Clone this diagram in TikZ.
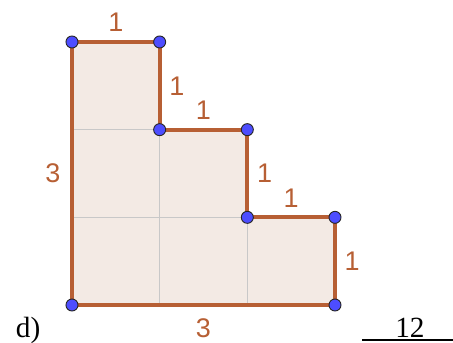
\documentclass[tikz,border=0pt]{standalone}
\usepackage{fontspec}
\setmainfont{Liberation Serif}
\newfontfamily\labfont{Liberation Sans}
\definecolor{edgebrown}{RGB}{183,95,52}
\definecolor{areafill}{RGB}{243,234,228}
\definecolor{gridgray}{RGB}{200,200,200}
\definecolor{ptblue}{RGB}{77,77,255}
\tikzset{
  edge/.style={line width=2.6pt, edgebrown},
  lab/.style={font=\labfont\fontsize{17.5}{20}\selectfont, text=edgebrown, inner sep=0pt},
  txt/.style={font=\fontsize{19}{22}\selectfont, inner sep=0pt},
  pt/.style={circle, fill=ptblue, draw=black!85, line width=0.6pt, inner sep=0pt, minimum size=7.8pt}
}
\begin{document}
\begin{tikzpicture}[x=2cm, y=2cm]
    \useasboundingbox (-0.821,-0.433) rectangle (4.346,3.479);
    % 階段形の頂点
    \coordinate (A) at (0,3);
    \coordinate (B) at (1,3);
    \coordinate (C) at (1,2);
    \coordinate (D) at (2,2);
    \coordinate (E) at (2,1);
    \coordinate (F) at (3,1);
    \coordinate (G) at (3,0);
    \coordinate (O) at (0,0);
    % 内側の領域
    \fill[areafill] (A) -- (B) -- (C) -- (D) -- (E) -- (F) -- (G) -- (O) -- cycle;
    % 方眼の線
    \draw[gridgray, line width=0.8pt] (0,1) -- (E) (0,2) -- (C) (1,0) -- (C) (2,0) -- (E);
    % 辺と長さ
    \draw[edge] (A) -- node[lab, above=5.5pt] {1} (B);
    \draw[edge] (B) -- node[lab, right=5pt] {1} (C);
    \draw[edge] (C) -- node[lab, above=5pt] {1} (D);
    \draw[edge] (D) -- node[lab, right=5pt] {1} (E);
    \draw[edge] (E) -- node[lab, above=5pt] {1} (F);
    \draw[edge] (F) -- node[lab, right=5pt] {1} (G);
    \draw[edge] (G) -- node[lab, below=7.5pt] {3} (O);
    \draw[edge] (O) -- node[lab, left=6.3pt] {3} (A);
    % 頂点の点
    \foreach \p in {A,B,C,D,E,F,G,O}
      \node[pt] (p\p) at (\p) {};
    % 設問と答え
    \node[txt, anchor=base] (dlab) at (-0.5,-0.37) {d)};
    \node[txt, anchor=base] (ans) at (3.855,-0.375)
      {\makebox[62pt]{12}\llap{\rule[-1.8pt]{62pt}{1.2pt}}};
\end{tikzpicture}
\end{document}
